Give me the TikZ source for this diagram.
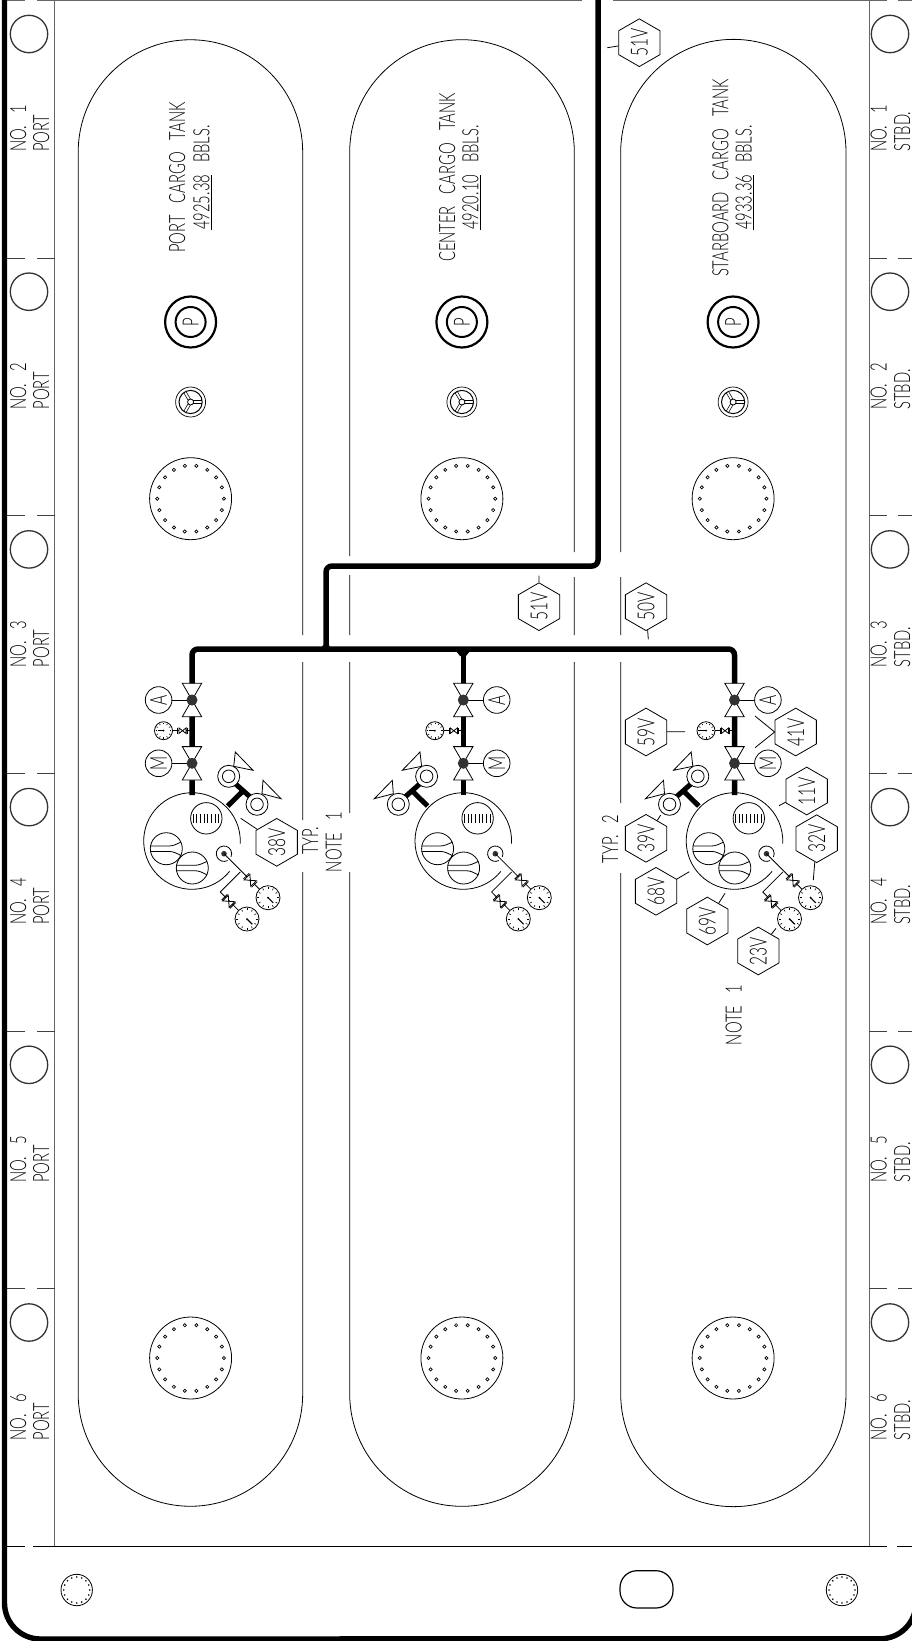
\documentclass[tikz,border=0pt]{standalone}
\usepackage{fontspec}
\setmainfont[FakeStretch=0.66,WordSpace=3]{Lato Light}
\usetikzlibrary{shapes.geometric}
\definecolor{framegray}{HTML}{666666}
\definecolor{ringgray}{HTML}{333333}
\newcommand\labfont{\fontsize{22.4}{23}\selectfont}
\newcommand\tagfont{\fontsize{23.5}{24}\selectfont}
\tikzset{
 thinl/.style={line width=0.8pt,black},
 framel/.style={line width=1pt,framegray},
 rulel/.style={line width=0.9pt,black},
 pipel/.style={line width=5.5pt,black,rounded corners=6pt},
 lab/.style={rotate=90,anchor=base,inner sep=0pt,font=\labfont},
 labw/.style={rotate=90,anchor=base west,inner sep=0pt,font=\labfont},
 hextag/.style={draw,line width=0.8pt,regular polygon,regular polygon sides=6,minimum size=47.7pt,inner sep=0pt,rotate=90,font=\tagfont},
 letter/.style={draw,line width=0.8pt,circle,minimum size=26.6pt,inner sep=0pt,rotate=90,font=\tagfont},
 ringp/.style={circle,inner sep=0pt,rotate=90,font=\labfont},
 tagline/.style={line width=0.8pt,black}
}
% valve body on a pipe: centre y
\newcommand\vbody[1]{%
 \draw[thinl,fill=white] (-9.7,#1-16.7)--(9.7,#1-16.7)--(0,#1)--cycle;
 \draw[thinl,fill=white] (-9.7,#1+16.7)--(9.7,#1+16.7)--(0,#1)--cycle;
 \fill[black!80] (0,#1) circle[radius=5.5pt];
}
% gauge: x,y,radius,needle angle
\newcommand\gaugedial[4]{%
 \begin{scope}[shift={(#1,#2)}]
 \draw[thinl,fill=white] (0,0) circle[radius=#3pt];
 \foreach \a in {0,30,...,330}{\draw[line width=0.6pt] (\a:0.72*#3pt)--(\a:0.88*#3pt);}
 \draw[line width=1.1pt] (0,0)--(#4:0.62*#3pt);
 \fill (0,0) circle[radius=1pt];
 \end{scope}
}
% little inline valve: x,y,rotation,half length,half width
\newcommand\inlinevalve[5]{%
 \begin{scope}[shift={(#1,#2)},rotate=#3]
 \draw[thinl,fill=white] (-#4,-#5)--(#4,#5)--(#4,-#5)--(-#4,#5)--cycle;
 \draw[thinl] (-#4-1.2,-#5)--(-#4-1.2,#5) (#4+1.2,-#5)--(#4+1.2,#5);
 \end{scope}
}
% swirl circle
\newcommand\swirlc[2]{%
 \begin{scope}[shift={(#1,#2)}]
 \draw[thinl] (0,0) circle[radius=16pt];
 \draw[thinl] (-16,-2.7)--(2.5,-2.7) .. controls (7,-2.7) and (10,-4.5) .. (14.5,-6.5);
 \draw[thinl] (-16,2.7)--(2.5,2.7) .. controls (7,2.7) and (10,4.5) .. (15,7);
 \end{scope}
}
% manholes, P, wheel and fittings of one tank: x, side, prefix
\newcommand\tankfit[3]{%
 \begin{scope}[shift={(#1,0)}]
 \begin{scope}[shift={(-1.4,0)}]
 % P ring
 \draw[line width=2.2pt] (0,322) circle[radius=25.5pt];
 \draw[line width=2pt] (0,322) circle[radius=15pt];
 \node[ringp] (#3p) at (0,322) {P};
 % wheel
 \begin{scope}[shift={(0,402)}]
 \draw[line width=0.7pt] (0,0) circle[radius=15pt];
 \foreach \a in {0,120,240}{\draw[line width=3.2pt] (\a:2pt)--(\a:11.5pt);\draw[white,line width=1.8pt] (\a:2pt)--(\a:12.5pt);}
 \draw[thinl,fill=white] (0,0) circle[radius=3pt];
 \draw[line width=1pt] (0,0) circle[radius=11.6pt];
 \end{scope}
 % manholes
 \foreach \my in {498.7,1358}{
 \draw[thinl] (0,\my) circle[radius=41pt];
 \foreach \a in {0,20,...,340}{\draw[line width=0.7pt] ([shift={(\a:33.3pt)}]0,\my) circle[radius=1.6pt];}
 }
 \end{scope}
 % gauge on pipe
 \draw[thinl] (0,730.7)--(-20,730.7);
 \inlinevalve{-9.5}{730.7}{0}{3.6}{2.8}
 \gaugedial{-28.5}{730.7}{9}{180}
 % mirrored fittings
 \begin{scope}[xscale=#2]
 \draw[line width=5pt] (35.7,806)--(50,792);
 \draw[line width=5pt] (43.3,783.7)--(58.3,797);
 \draw[thinl,fill=white] (41.7,766.3)--(43.3,752)--(61,770.3)--cycle;
 \draw[thinl,fill=white] (70,793.7)--(71,780.3)--(89,798.7)--cycle;
 \draw[thinl,fill=white] (36.7,776.3) circle[radius=11pt];
 \draw[thinl] (36.7,776.3) circle[radius=6.3pt];
 \draw[thinl,fill=white] (65,804.3) circle[radius=11pt];
 \draw[thinl] (65,804.3) circle[radius=6.3pt];
 \draw[thinl] (0,700)--(-33.4,700) (0,763.3)--(-33.4,763.3);
 \coordinate (#3la) at (-33.4,700);
 \coordinate (#3lm) at (-33.4,763.3);
 \end{scope}
 \node[letter,fill=white] (#3a) at (#3la) {A};
 \node[letter,fill=white] (#3m) at (#3lm) {M};
 \vbody{700}
 \vbody{763.3}
 % dome
 \draw[thinl] (39:48.3pt) ++(0,841) arc[start angle=39,end angle=363,radius=48.3pt];
 \draw[thinl] (14.3,818.3) circle[radius=15.7pt];
 \foreach \hx in {-12.5,-8.8,...,16}{\draw[line width=0.6pt] (14.3+\hx-1,814)--(14.3+\hx-1,822.6);}
 \swirlc{-25.7}{848.7}
 \swirlc{0.3}{868}
 \draw[thinl] (32,853.7)++(62:7.7pt) arc[start angle=62,end angle=385,radius=7.7pt];
 \fill[black!80] (32,853.7) circle[radius=2.8pt];
 \draw[thinl] (32,853.7)--(76,897.7);
 \draw[thinl] (48.3,872)--(28.3,892)--(55,919);
 \inlinevalve{58.3}{880.3}{45}{4.6}{4}
 \inlinevalve{36.7}{901.3}{45}{4.6}{4}
 \gaugedial{76}{897.7}{12}{45}
 \gaugedial{55}{919}{12}{45}
 \end{scope}
}
\begin{document}
\begin{tikzpicture}[x=1pt,y=1pt,yscale=-1]
\useasboundingbox (0,0) rectangle (912,1641);
% outer frame
\draw[line width=5.4pt,black] (4.5,-5)--(4.5,1603) arc[start angle=180,end angle=90,radius=36pt]--(880,1638.8) arc[start angle=90,end angle=0,radius=36pt]--(916,1590);
% frame lines
\draw[framel] (54.5,0)--(54.5,1546) (869,0)--(869,1546);
\draw[framel] (7,0.5)--(25,0.5) (37,0.5)--(581.7,0.5) (613,0.5)--(887,0.5) (898,0.5)--(912,0.5);
\foreach \ry in {258,515.5,773,1031,1288.5}{
 \draw[framel,black!75] (7,\ry)--(25,\ry) (37,\ry)--(54.5,\ry) (869,\ry)--(887,\ry) (898,\ry)--(912,\ry);
}
\draw[rulel] (7,1546)--(25,1546) (33,1546)--(887,1546) (897,1546)--(912,1546);
% margin circles and labels
\foreach \k [evaluate=\k as \cy using {34+257.7*(\k-1)},evaluate=\k as \ly using {152+257.7*(\k-1)}] in {1,...,6}{
 \draw[line width=1.3pt,ringgray] (29,\cy) circle[radius=18.7pt];
 \draw[line width=1.3pt,ringgray] (890,\cy) circle[radius=18.7pt];
 \node[labw] (pno\k) at (26,\ly) {NO. \k};
 \node[labw] (pn\k) at (49,\ly) {PORT};
 \node[labw] (sno\k) at (886.7,\ly) {NO. \k};
 \node[labw] (sn\k) at (910,\ly) {STBD.};
}
% tanks
\begin{scope}[thinl]
\draw (78.2,1394)--(78.2,152) arc[start angle=180,end angle=360,radius=112.25pt]--(302.7,635) (302.7,662)--(302.7,820) (302.7,872)--(302.7,1394) arc[start angle=0,end angle=180,radius=112.25pt];
\draw (349.7,1394)--(349.7,872) (349.7,813)--(349.7,662) (349.7,635)--(349.7,575) (349.7,556)--(349.7,152) arc[start angle=180,end angle=360,radius=112.3pt]--(574.3,552) (574.3,577)--(574.3,635) (574.3,662)--(574.3,1394) arc[start angle=0,end angle=180,radius=112.3pt];
\draw (620.7,1394)--(620.7,873) (620.7,803)--(620.7,662) (620.7,635)--(620.7,577) (620.7,552)--(620.7,152) arc[start angle=180,end angle=360,radius=112.65pt]--(846,1394) arc[start angle=0,end angle=180,radius=112.65pt];
\end{scope}
% tank names
\node[lab] (tp1) at (185,177.5) {PORT CARGO TANK};
\node[lab] (tp2) at (209.3,177.5) {\underline{4925.38} BBLS.};
\node[lab] (tc1) at (455,177.5) {CENTER CARGO TANK};
\node[lab] (tc2) at (478.3,177.5) {\underline{4920.10} BBLS.};
\node[lab] (ts1) at (728.3,178) {STARBOARD CARGO TANK};
\node[lab] (ts2) at (751.7,177.5) {\underline{4933.36} BBLS.};
% pipes
\draw[pipel] (598,-8)--(598,566)--(326,566)--(326,649);
\draw[pipel] (192,795)--(192,649)--(734.5,649)--(734.5,795);
\draw[pipel] (463.3,649)--(463.3,795);
\fill (320,651)--(332,651)--(329,645)--(323,645)--cycle;
\fill (456,651)--(470,651)--(466,656)--(460,656)--cycle;
% fittings
\tankfit{192}{1}{p}
\tankfit{463.3}{-1}{c}
\tankfit{734.5}{-1}{s}
% notes
\node[lab] (n1) at (318,840.8) {TYP.};
\node[lab] (n2) at (341.7,842) {NOTE 1};
\node[lab] (n3) at (618,839) {TYP. 2};
\node[lab] (n4) at (741.7,1015) {NOTE 1};
% tags
\node[hextag] (t38) at (276.7,842.3) {38V};
\coordinate (e38) at (240.7,818.3);
\draw[tagline] (t38)--(e38);
\node[hextag] (t51a) at (639.3,42.7) {51V};
\coordinate (e51a) at (607.3,47.7);
\draw[tagline] (t51a)--(e51a);
\node[hextag] (t51b) at (539,606.7) {51V};
\coordinate (e51b) at (539,575.7);
\draw[tagline] (t51b)--(e51b);
\node[hextag] (t50) at (646,606.7) {50V};
\coordinate (e50) at (648.3,639.3);
\draw[tagline] (t50)--(e50);
\node[hextag] (t59) at (646,732) {59V};
\coordinate (e59) at (685,731.7);
\draw[tagline] (t59)--(e59);
\node[hextag] (t41) at (795.7,732) {41V};
\coordinate (e41a) at (755,716);
\coordinate (e41b) at (755,747.7);
\draw[tagline] (e41a)--(t41.north)--(e41b);
\node[hextag] (t11) at (806.7,791) {11V};
\coordinate (e11) at (779,805.7);
\draw[tagline] (t11)--(e11);
\node[hextag] (t32) at (816.7,838.7) {32V};
\coordinate (e32) at (813.3,880);
\draw[tagline] (t32)--(e32);
\node[hextag] (t39) at (646,838.3) {39V};
\coordinate (e39) at (660.7,815);
\draw[tagline] (t39)--(e39);
\node[hextag] (t68) at (656,891.3) {68V};
\coordinate (e68) at (689.3,871.7);
\draw[tagline] (t68)--(e68);
\node[hextag] (t69) at (707.3,921) {69V};
\coordinate (e69) at (725,893.3);
\draw[tagline] (t69)--(e69);
\node[hextag] (t23) at (758.3,951) {23V};
\coordinate (e23) at (776,928.3);
\draw[tagline] (t23)--(e23);
% bottom fittings
\foreach \bx in {76.7,842}{
 \draw[thinl] (\bx,1590) circle[radius=15.7pt];
 \foreach \a in {0,22.5,...,337.5}{\fill ([shift={(\a:13pt)}]\bx,1590) circle[radius=0.9pt];}
}
\draw[line width=1.2pt,rounded corners=17pt] (620,1570.7) rectangle (673,1608);
\end{tikzpicture}
\end{document}
